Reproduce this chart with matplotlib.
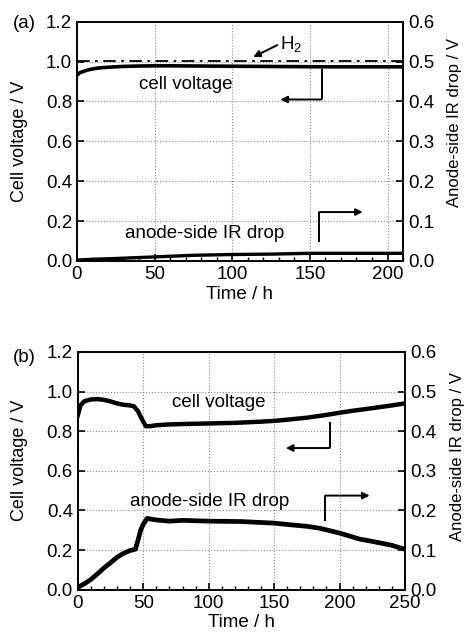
import matplotlib.pyplot as plt
from matplotlib.ticker import MultipleLocator

plt.rcParams['font.family'] = ['Liberation Sans', 'DejaVu Sans']
plt.rcParams['mathtext.fontset'] = 'custom'
plt.rcParams['mathtext.rm'] = 'Liberation Sans'

# (a) H2 test
time_a = [0, 2, 5, 8, 12, 15, 20, 30, 40, 50, 60, 80, 100, 120, 140, 160, 180, 200, 210]
volt_a = [0.932, 0.945, 0.953, 0.960, 0.966, 0.969, 0.972, 0.976, 0.978, 0.979, 0.979,
          0.978, 0.977, 0.976, 0.975, 0.974, 0.974, 0.974, 0.974]
ir_time_a = [0, 10, 25, 50, 75, 100, 125, 150, 175, 200, 210]
ir_a = [0.002, 0.004, 0.006, 0.010, 0.014, 0.016, 0.017, 0.019, 0.019, 0.019, 0.019]
h2_level = 1.005

# (b)
time_b = [0, 2, 5, 10, 15, 20, 25, 30, 35, 40, 43, 46, 49, 52, 55, 60, 70, 80, 100, 120,
          140, 150, 160, 175, 190, 200, 210, 225, 240, 250]
volt_b = [0.88, 0.93, 0.951, 0.960, 0.962, 0.958, 0.950, 0.940, 0.933, 0.930, 0.925,
          0.900, 0.860, 0.825, 0.825, 0.830, 0.834, 0.836, 0.839, 0.842, 0.848, 0.852,
          0.858, 0.868, 0.882, 0.893, 0.903, 0.916, 0.930, 0.940]
ir_time_b = [0, 5, 10, 15, 20, 25, 30, 35, 40, 44, 46, 48, 50, 53, 56, 60, 70, 80, 100,
             125, 150, 165, 175, 185, 200, 215, 225, 240, 250]
ir_b = [0.006, 0.015, 0.026, 0.040, 0.055, 0.068, 0.082, 0.092, 0.099, 0.102, 0.125,
        0.150, 0.165, 0.180, 0.178, 0.176, 0.173, 0.175, 0.173, 0.172, 0.168, 0.163,
        0.160, 0.155, 0.143, 0.128, 0.122, 0.112, 0.102]

FS = 13.5

fig = plt.figure(figsize=(4.66, 6.41), dpi=100)


def setup(ax, xmax):
    ax2 = ax.twinx()
    ax.set_xlim(0, xmax)
    ax.set_ylim(0, 1.2)
    ax2.set_ylim(0, 0.6)
    ax.xaxis.set_major_locator(MultipleLocator(50))
    ax.xaxis.set_minor_locator(MultipleLocator(10))
    ax.yaxis.set_major_locator(MultipleLocator(0.2))
    ax2.yaxis.set_major_locator(MultipleLocator(0.1))
    ax.yaxis.set_major_formatter(lambda v, p: f'{v:.1f}')
    ax2.yaxis.set_major_formatter(lambda v, p: f'{v:.1f}')
    ax.grid(True, color='#888888', linestyle=':', linewidth=0.8)
    ax.tick_params(which='both', direction='in', top=False, right=False, labelsize=FS)
    ax.tick_params(which='major', length=5, width=1.2)
    ax.tick_params(which='minor', length=3, width=1)
    ax2.tick_params(direction='in', length=5, width=1.2, labelsize=FS)
    for a in (ax, ax2):
        for s in a.spines.values():
            s.set_linewidth(1.2)
    ax.set_xlabel('Time / h', fontsize=FS, labelpad=2)
    ax.set_ylabel('Cell voltage / V', fontsize=13)
    ax2.set_ylabel('Anode-side IR drop / V', fontsize=12)
    return ax2


def bent_arrow(ax, x0, y0, x1, y1, x2):
    ax.plot([x0, x1], [y0, y1], color='k', lw=1.4, solid_capstyle='butt')
    ax.annotate('', xy=(x2, y1), xytext=(x1, y1),
                arrowprops=dict(arrowstyle='-|>', lw=1.4, color='k',
                                mutation_scale=10, shrinkA=0, shrinkB=0))


# panel (a)
ax_a = fig.add_axes([0.165, 0.593, 0.700, 0.373])
ax_a2 = setup(ax_a, 210)
ax_a.yaxis.set_label_coords(-0.150, 0.50)
ax_a2.yaxis.set_label_coords(1.135, 0.58)
ax_a.axhline(h2_level, color='k', lw=1.3, linestyle=(0, (7, 3, 1.5, 3)))
ax_a.plot(time_a, volt_a, color='k', lw=2.6)
ax_a2.plot(ir_time_a, ir_a, color='k', lw=2.4)
ax_a.text(40, 0.885, 'cell voltage', fontsize=FS, va='center')
bent_arrow(ax_a, 157.5, 0.965, 157.5, 0.81, 131)
ax_a.text(31, 0.135, 'anode-side IR drop', fontsize=FS, va='center')
bent_arrow(ax_a, 156, 0.095, 156, 0.245, 184)
ax_a.annotate('', xy=(113.5, 1.023), xytext=(129, 1.083),
              arrowprops=dict(arrowstyle='-|>', lw=1.4, color='k',
                              mutation_scale=10, shrinkA=0, shrinkB=0))
ax_a.text(130.5, 1.085, 'H$_2$', fontsize=FS, va='center')
fig.text(0.028, 0.964, '(a)', fontsize=FS, va='center')

# panel (b)
ax_b = fig.add_axes([0.167, 0.080, 0.702, 0.371])
ax_b2 = setup(ax_b, 250)
ax_b.yaxis.set_label_coords(-0.153, 0.546)
ax_b2.yaxis.set_label_coords(1.138, 0.56)
ax_b.plot(time_b, volt_b, color='k', lw=3.2)
ax_b2.plot(ir_time_b, ir_b, color='k', lw=3.4)
ax_b.text(72, 0.945, 'cell voltage', fontsize=FS, va='center')
bent_arrow(ax_b, 192.5, 0.845, 192.5, 0.715, 159)
ax_b.text(40, 0.445, 'anode-side IR drop', fontsize=FS, va='center')
bent_arrow(ax_b, 189, 0.345, 189, 0.475, 223)
fig.text(0.028, 0.442, '(b)', fontsize=FS, va='center')

fig.savefig('out.png', dpi=100)
